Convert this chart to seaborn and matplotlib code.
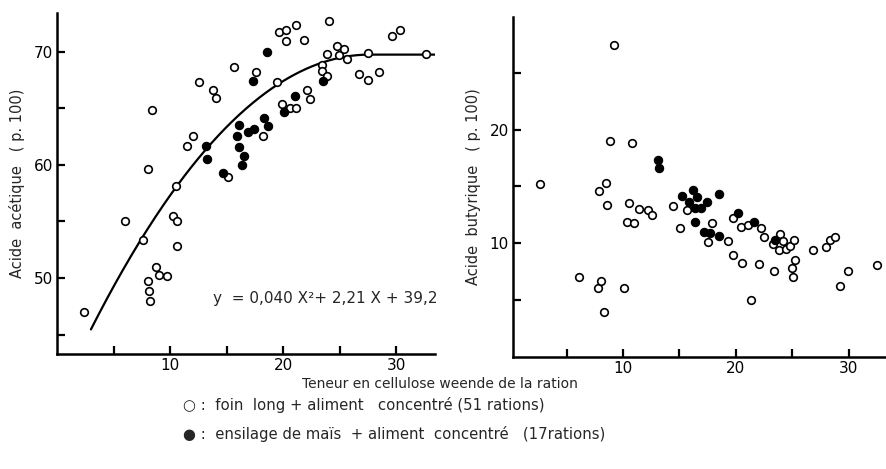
import numpy as np
import pandas as pd
import matplotlib
matplotlib.use("Agg")
import matplotlib.pyplot as plt
import seaborn as sns

# ---------------- data ----------------
left_open_x = [8.39, 8.03, 12.56, 11.45, 12.0, 13.77, 14.06, 15.68, 15.15, 17.56,
               18.2, 19.4, 19.62, 20.2, 20.27, 21.1, 21.83, 19.86, 20.6, 21.1,
               22.1, 22.4, 24.04, 23.45, 23.4, 23.9, 23.88, 24.77, 24.95, 25.4,
               25.65, 26.65, 27.47, 27.5, 28.47, 29.6, 30.27, 32.6, 10.5, 6.03,
               7.56, 10.24, 10.62, 10.6, 8.76, 9.05, 9.73, 8.03, 8.12, 8.2, 2.38]
left_open_y = [64.8, 59.6, 67.3, 61.7, 62.5, 66.6, 65.9, 68.6, 58.9, 68.2,
               62.5, 67.3, 71.7, 71.9, 70.9, 72.3, 71.0, 65.4, 65.0, 65.0,
               66.6, 65.8, 72.7, 68.8, 68.3, 67.8, 69.8, 70.5, 69.7, 70.2,
               69.3, 68.0, 67.5, 69.9, 68.2, 71.4, 71.9, 69.8, 58.1, 55.0,
               53.4, 55.5, 55.0, 52.8, 51.0, 50.3, 50.2, 49.7, 48.9, 48.0, 47.0]
left_fill_x = [13.15, 13.24, 14.7, 16.1, 15.94, 16.1, 16.56, 16.33, 16.88, 17.44,
               17.35, 18.27, 18.62, 18.6, 20.06, 21.0, 23.48]
left_fill_y = [61.7, 60.5, 59.3, 63.5, 62.5, 61.6, 60.8, 60.0, 62.9, 63.2,
               67.4, 64.1, 63.4, 70.0, 64.7, 66.1, 67.4]

right_open_x = [9.24, 2.69, 8.86, 10.76, 8.51, 7.9, 8.6, 10.55, 10.35, 11.0,
                11.43, 12.2, 12.54, 14.4, 15.64, 15.06, 17.84, 17.57, 19.74, 20.47,
                21.08, 19.3, 19.7, 20.5, 22.0, 22.2, 22.5, 23.3, 23.86, 23.8,
                24.2, 24.45, 24.76, 25.1, 25.2, 24.97, 25.03, 23.4, 21.35, 26.8,
                28.0, 28.33, 28.8, 29.94, 29.25, 32.46, 6.08, 7.78, 8.04, 8.33, 10.06]
right_open_y = [27.4, 15.2, 19.0, 18.8, 15.3, 14.6, 13.4, 13.5, 11.9, 11.8,
                13.0, 12.9, 12.5, 13.3, 12.9, 11.3, 11.8, 10.15, 12.2, 11.4,
                11.6, 10.2, 8.95, 8.25, 8.2, 11.3, 10.55, 9.9, 10.85, 9.4,
                10.2, 9.5, 9.8, 10.3, 8.55, 7.8, 7.0, 7.6, 5.0, 9.4,
                9.7, 10.25, 10.55, 7.6, 6.2, 8.1, 7.05, 6.1, 6.7, 4.0, 6.1]
right_fill_x = [13.1, 13.2, 15.2, 16.2, 16.55, 15.8, 17.43, 16.34, 16.87, 18.48,
                16.34, 17.2, 17.7, 18.48, 20.2, 21.6, 23.5]
right_fill_y = [17.3, 16.6, 14.2, 14.65, 14.1, 13.6, 13.6, 13.1, 13.1, 14.3,
                11.9, 11.0, 10.9, 10.6, 12.7, 11.9, 10.3]

# regression shown on the chart (quadratic, plateau after its maximum)
fit_coefs = [-0.040, 2.21, 39.2]
fit_range = [3.0, 33.4]

xticks = [5, 10, 15, 20, 25, 30]
xticklabels = ["", "10", "", "20", "", "30"]
left_yticks = [45, 50, 55, 60, 65, 70]
left_yticklabels = ["", "50", "", "60", "", "70"]
right_yticks = [5, 10, 15, 20, 25]
right_yticklabels = ["", "10", "", "20", ""]

eq_text = "y  = 0,040 X²+ 2,21 X + 39,2"
xlabel = "Teneur en cellulose weende de la ration"
left_ylabel = "Acide  acétique   ( p. 100)"
right_ylabel = "Acide  butyrique   ( p. 100)"
legend_lines = ["○ :  foin  long + aliment   concentré (51 rations)",
                "● :  ensilage de maïs  + aliment  concentré   (17rations)"]

# ---------------- figure ----------------
sns.set_theme(style="white")
plt.rcParams["font.family"] = ["DejaVu Sans"]

fig = plt.figure(figsize=(8.86, 4.69), dpi=100)
axL = fig.add_axes([0.0643, 0.2452, 0.4266, 0.7271])
axR = fig.add_axes([0.5790, 0.2388, 0.4199, 0.7250])

def scatter_groups(ax, ox, oy, fx, fy):
    d_open = pd.DataFrame({"x": ox, "y": oy})
    d_fill = pd.DataFrame({"x": fx, "y": fy})
    sns.scatterplot(data=d_open, x="x", y="y", ax=ax, s=30, marker="o",
                    facecolor="white", edgecolor="black", linewidth=1.2, zorder=3)
    sns.scatterplot(data=d_fill, x="x", y="y", ax=ax, s=36, marker="o",
                    color="black", edgecolor="black", linewidth=0.8, zorder=4)

scatter_groups(axL, left_open_x, left_open_y, left_fill_x, left_fill_y)
scatter_groups(axR, right_open_x, right_open_y, right_fill_x, right_fill_y)

# regression curve
a, b, c = fit_coefs
x_peak = -b / (2 * a)
cx = np.linspace(fit_range[0], fit_range[1], 300)
cy = np.where(cx < x_peak, a * cx**2 + b * cx + c, a * x_peak**2 + b * x_peak + c)
sns.lineplot(x=cx, y=cy, ax=axL, color="black", linewidth=1.6, zorder=2)

axL.text(13.8, 48.2, eq_text, fontsize=11, va="center", ha="left")

axL.set_xlim(0, 33.4)
axL.set_ylim(43.3, 73.4)
axR.set_xlim(0.26, 33.2)
axR.set_ylim(0, 29.9)

for ax, yt, ytl, yl in [(axL, left_yticks, left_yticklabels, left_ylabel),
                        (axR, right_yticks, right_yticklabels, right_ylabel)]:
    ax.set_xticks(xticks)
    ax.set_xticklabels(xticklabels)
    ax.set_yticks(yt)
    ax.set_yticklabels(ytl)
    ax.set_xlabel("")
    ax.set_ylabel(yl, fontsize=10.5, labelpad=6)
    for s in ["top", "right"]:
        ax.spines[s].set_visible(False)
    for s in ["left", "bottom"]:
        ax.spines[s].set_color("black")
        ax.spines[s].set_linewidth(1.8)
    ax.tick_params(axis="both", direction="in", length=6, width=1.6,
                   colors="black", labelsize=11, pad=3)
    ax.tick_params(axis="x", bottom=True, left=False)
    ax.tick_params(axis="y", left=True, bottom=False)
    ax.grid(False)
    ax.set_facecolor("white")

fig.text(0.497, 0.181, xlabel, fontsize=10, ha="center", va="center")
fig.text(0.207, 0.136, legend_lines[0], fontsize=10.7, ha="left", va="center")
fig.text(0.207, 0.074, legend_lines[1], fontsize=10.7, ha="left", va="center")

fig.savefig("out.png", dpi=100, facecolor="white")
